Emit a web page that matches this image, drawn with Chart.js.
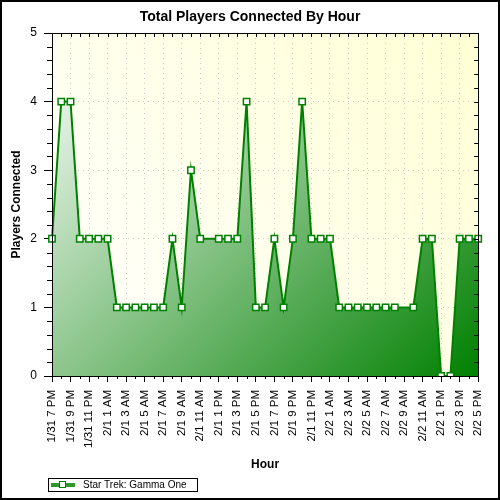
<!DOCTYPE html>
<html lang="en">
<head>
<meta charset="UTF-8">
<title>Total Players Connected By Hour</title>
<script src="https://cdn.jsdelivr.net/npm/chart.js"></script>
<style>
  body { margin: 0; background: #fff; }
  canvas { display: block; }
</style>
</head>
<body>
<canvas id="playersChart" width="500" height="500"></canvas>
<script>
// one entry per hour, 1/31 7 PM .. 2/2 5 PM
const hours = [
  '1/31 7 PM', '1/31 8 PM', '1/31 9 PM', '1/31 10 PM', '1/31 11 PM',
  '2/1 12 AM', '2/1 1 AM', '2/1 2 AM', '2/1 3 AM', '2/1 4 AM', '2/1 5 AM',
  '2/1 6 AM', '2/1 7 AM', '2/1 8 AM', '2/1 9 AM', '2/1 10 AM', '2/1 11 AM',
  '2/1 12 PM', '2/1 1 PM', '2/1 2 PM', '2/1 3 PM', '2/1 4 PM', '2/1 5 PM',
  '2/1 6 PM', '2/1 7 PM', '2/1 8 PM', '2/1 9 PM', '2/1 10 PM', '2/1 11 PM',
  '2/2 12 AM', '2/2 1 AM', '2/2 2 AM', '2/2 3 AM', '2/2 4 AM', '2/2 5 AM',
  '2/2 6 AM', '2/2 7 AM', '2/2 8 AM', '2/2 9 AM', '2/2 10 AM', '2/2 11 AM',
  '2/2 12 PM', '2/2 1 PM', '2/2 2 PM', '2/2 3 PM', '2/2 4 PM', '2/2 5 PM'
];

// null = no sample that hour (line just joins across)
const players = [
  2, 4, 4, 2, 2,
  2, 2, 1, 1, 1, 1,
  1, 1, 2, 1, 3, 2,
  null, 2, 2, 2, 4, 1,
  1, 2, 1, 2, 4, 2,
  2, 2, 1, 1, 1, 1,
  1, 1, 1, null, 1, 2,
  2, 0, 0, 2, 2, 2
];

const seriesName = 'Star Trek: Gamma One';
const yTicks = [0, 1, 2, 3, 4, 5];

Chart.defaults.font.family = '"Liberation Sans", Arial, sans-serif';
Chart.defaults.color = '#000';

// plot background, minor ticks, outer frame and the legend box
const frame = {
  id: 'frame',
  beforeDraw(chart) {
    const { ctx, chartArea: a } = chart;
    ctx.save();
    ctx.fillStyle = '#fff';
    ctx.fillRect(0, 0, chart.width, chart.height);
    const g = ctx.createLinearGradient(a.left, a.bottom, a.right, a.top);
    g.addColorStop(0, '#ffffff');
    g.addColorStop(1, '#ffffd4');
    ctx.fillStyle = g;
    ctx.fillRect(a.left, a.top, a.right - a.left, a.bottom - a.top);
    ctx.restore();
  },
  afterDraw(chart) {
    const { ctx, chartArea: a, scales: { x, y } } = chart;
    ctx.save();
    ctx.strokeStyle = '#000';
    ctx.lineWidth = 1;
    ctx.beginPath();
    ctx.moveTo(a.left, a.top + 0.5);
    ctx.lineTo(a.right, a.top + 0.5);
    for (let i = 0; i < hours.length; i++) {
      const px = Math.round(x.getPixelForTick(i)) + 0.5;
      ctx.moveTo(px, a.top);
      ctx.lineTo(px, a.top + 4);
      if (i % 2) {
        ctx.moveTo(px, a.bottom);
        ctx.lineTo(px, a.bottom + 3);
      }
    }
    for (let k = 0; k <= 25; k++) {
      const py = Math.round(y.getPixelForValue(k / 5)) + 0.5;
      ctx.moveTo(a.right - 4, py);
      ctx.lineTo(a.right, py);
      if (k % 5) {
        ctx.moveTo(a.left - 5, py);
        ctx.lineTo(a.left, py);
      }
    }
    ctx.stroke();

    ctx.lineWidth = 2;
    ctx.strokeRect(1, 1, chart.width - 2, chart.height - 2);

    // legend
    ctx.lineWidth = 1;
    ctx.strokeRect(48.5, 478.5, 149, 13);
    ctx.fillStyle = '#2e9a2e';
    ctx.fillRect(51, 483, 24, 4);
    ctx.fillStyle = '#fff';
    ctx.fillRect(59.5, 481.5, 6, 6);
    ctx.strokeStyle = '#008000';
    ctx.strokeRect(59.5, 481.5, 6, 6);
    ctx.fillStyle = '#000';
    ctx.font = '10px "Liberation Sans", Arial, sans-serif';
    ctx.textBaseline = 'middle';
    ctx.fillText(seriesName, 83, 485.5);
    ctx.restore();
  }
};

const ctx = document.getElementById('playersChart').getContext('2d');
const playersChart = new Chart(ctx, {
  type: 'line',
  data: {
    labels: hours,
    datasets: [{
      label: seriesName,
      data: players,
      spanGaps: true,
      borderColor: '#008000',
      borderWidth: 2,
      tension: 0,
      fill: 'origin',
      backgroundColor: (c) => {
        const a = c.chart.chartArea;
        if (!a) return 'rgba(0,128,0,0.5)';
        // 45 degree sweep, white top-left to dark green bottom-right
        const d = ((a.right - a.left) + (a.bottom - a.top)) / 2;
        const g = c.chart.ctx.createLinearGradient(a.left, a.top, a.left + d, a.top + d);
        g.addColorStop(0, '#ffffff');
        g.addColorStop(1, '#008000');
        return g;
      },
      pointStyle: 'rect',
      pointRadius: 4.5,
      pointBackgroundColor: '#fff',
      pointBorderColor: '#008000',
      pointBorderWidth: 1.5,
      clip: { left: 8, top: 8, right: 8, bottom: 0 }
    }]
  },
  options: {
    responsive: false,
    animation: false,
    devicePixelRatio: 1,
    layout: { padding: 0 },
    plugins: {
      legend: { display: false },
      tooltip: { enabled: false },
      title: {
        display: true,
        text: 'Total Players Connected By Hour',
        color: '#000',
        font: { size: 14, weight: 'bold', lineHeight: 1 },
        padding: { top: 10, bottom: 9 }
      }
    },
    scales: {
      x: {
        offset: false,
        grid: {
          color: (c) => c.index % 2 ? 'transparent' : '#c8c8c8',
          tickColor: (c) => c.index % 2 ? 'transparent' : '#000',
          tickLength: 6,
          tickBorderDash: []
        },
        border: { color: '#000', dash: [1, 4], z: 1 },
        ticks: {
          autoSkip: false,
          minRotation: 90,
          maxRotation: 90,
          padding: 8,
          font: { size: 11.5 },
          callback: (v, i) => i % 2 ? '' : hours[i]
        },
        title: {
          display: true,
          text: 'Hour',
          font: { size: 12, weight: 'bold' },
          padding: { top: 0, bottom: 28 }
        },
        afterFit: (s) => { s.height = 124; }
      },
      y: {
        min: yTicks[0],
        max: yTicks[yTicks.length - 1],
        ticks: { stepSize: 1, padding: 7, font: { size: 12 } },
        grid: {
          color: (c) => (c.tick.value > 0 && c.tick.value < 5) ? '#c8c8c8' : 'transparent',
          tickColor: '#000',
          tickLength: 8,
          tickBorderDash: []
        },
        border: { color: '#000', dash: [1, 4], z: 1 },
        title: {
          display: true,
          text: 'Players Connected',
          font: { size: 12, weight: 'bold' },
          padding: { top: 9, bottom: 0 }
        },
        afterFit: (s) => { s.width = 52; }
      },
      y2: {
        position: 'right',
        min: 0,
        max: 5,
        ticks: { display: false },
        grid: { drawOnChartArea: false, drawTicks: false },
        border: { color: '#000', z: 1 },
        afterFit: (s) => { s.width = 17; }
      }
    }
  },
  plugins: [frame]
});
</script>
</body>
</html>
